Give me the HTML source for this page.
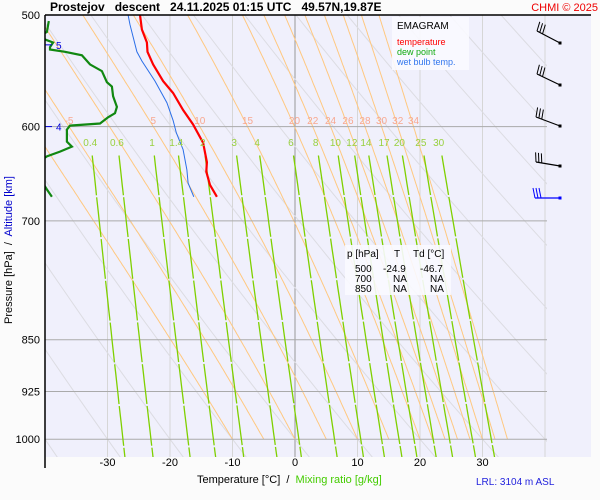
<!DOCTYPE html>
<html><head><meta charset="utf-8"><style>
body{margin:0;background:#fbfbfb;}
svg{display:block;font-family:"Liberation Sans",sans-serif;}
text{white-space:pre;}
</style></head><body>
<svg id="chart" width="600" height="500" viewBox="0 0 600 500">
<rect x="45" y="15" width="546" height="442" fill="#f0f0fc"/>
<defs><clipPath id="pc"><rect x="45" y="15" width="502" height="442"/></clipPath></defs>
<g id="grid" clip-path="url(#pc)"></g>
<g id="series" clip-path="url(#pc)"></g>
<g id="labels"></g>
<line x1="45" y1="15" x2="591" y2="15" stroke="#000" stroke-width="1.5"/>
<line x1="45" y1="15" x2="45" y2="468" stroke="#000" stroke-width="1.5"/>
<text x="50" y="11" font-size="12" font-weight="bold">Prostejov   descent   24.11.2025 01:15 UTC   49.57N,19.87E</text>
<text x="598" y="11" font-size="11" fill="#e00" text-anchor="end">CHMI © 2025</text>
<text transform="translate(12,250) rotate(-90)" font-size="11" text-anchor="middle">Pressure [hPa]  /  <tspan fill="#00c">Altitude [km]</tspan></text>
<text x="197" y="483" font-size="11">Temperature [°C]  /  <tspan fill="#44cc00">Mixing ratio [g/kg]</tspan></text>
<text x="476" y="485" font-size="10" fill="#22d">LRL: 3104 m ASL</text>
<g>
<rect x="392" y="17" width="77" height="53" fill="#fafaff" opacity="0.9"/>
<text x="397" y="29" font-size="10">EMAGRAM</text>
<text x="397" y="45" font-size="9" fill="#f00">temperature</text>
<text x="397" y="55" font-size="9" fill="#1a1">dew point</text>
<text x="397" y="65" font-size="9" fill="#37e">wet bulb temp.</text>
</g>
<g font-size="10">
<rect x="345" y="245" width="106" height="50" fill="#fafaff" opacity="0.9"/>
<text x="347" y="257">p [hPa]</text><text x="394" y="257">T</text><text x="413" y="257">Td [°C]</text>
<text x="355" y="272">500</text><text x="383" y="272">-24.9</text><text x="420" y="272">-46.7</text>
<text x="355" y="282">700</text><text x="393" y="282">NA</text><text x="430" y="282">NA</text>
<text x="355" y="292">850</text><text x="393" y="292">NA</text><text x="430" y="292">NA</text>
</g>
<g id="barbs"></g>
</svg>
<script>
const tempP=[500,512,523,531,542,557,568,584,598,616,636,646,660,673];
const tempT=[-24.8,-24.5,-23.7,-23.6,-22.7,-21.1,-19.5,-17.9,-16.3,-14.7,-14.1,-14.2,-13.6,-12.5];
const wbP=[500,508,531,539,557,577,594,606,623,644,658,673];
const wbT=[-26.7,-26.4,-25.3,-24.5,-22.4,-20.5,-19.5,-19.0,-17.9,-17.3,-17.1,-16.2];
const dewP=[505,514,518,521,523,527,529,531,534,542,548,558,562,571,581,587,591,597,599,603,615,620,625,630,640,665,673];
const dewT=[-39.4,-39.7,-41,-39.7,-38.7,-39.2,-39.2,-36.8,-34.1,-32.8,-30.9,-30.1,-29.3,-29.1,-28.5,-28.8,-29.9,-31.2,-36,-36.5,-36.5,-35.7,-37.6,-39.7,-42,-39.7,-38.9];
const pressureTicks=[500,600,700,850,925,1000];
const tempTicks=[-30,-20,-10,0,10,20,30];
const isotherms=[-40,-30,-20,-10,0,10,20,30,40];
const dryTheta=[-40,-30,-20,-10,0,10,20,30,40,50,60,70,80,90,100,110];
const moistThetaW=[-10,-5,0,5,10,15,20,22,24,26,28,30,32,34];
const moistLabelled=[-5,5,10,15,20,22,24,26,28,30,32,34];
const mixRatios=[0.4,0.6,1,1.4,2,3,4,6,8,10,12,14,17,20,25,30];
const altKm=[5,4];
const altP=[525,600];

const NS='http://www.w3.org/2000/svg';
const xs=t=>295+6.25*t;
const ys=p=>15+612*Math.log(p/500);
function mk(tag,attrs,parent){const e=document.createElementNS(NS,tag);for(const k in attrs)e.setAttribute(k,attrs[k]);parent.appendChild(e);return e;}
const grid=document.getElementById('grid'),ser=document.getElementById('series'),lab=document.getElementById('labels'),barbs=document.getElementById('barbs');
const pts=(P,T)=>P.map((p,i)=>xs(T[i]).toFixed(1)+','+ys(p).toFixed(1)).join(' ');

isotherms.forEach(t=>{const l=mk('line',{x1:xs(t),x2:xs(t),y1:15,y2:457,stroke:t===0?'#999':'#d6d6d6','stroke-width':1},grid);

});
dryTheta.forEach(th=>{const P=[],T=[];for(let p=480;p<=1060;p+=20){P.push(p);T.push((th+273.15)*Math.pow(p/1000,0.2857)-273.15);}
const l=mk('polyline',{points:pts(P,T),fill:'none',stroke:'#dcdce2','stroke-width':1},grid);

});
function es(t){return 6.112*Math.exp(17.67*t/(t+243.5));}
function moist(tw){const P=[1000],T=[tw];let t=tw+273.15;for(let p=1000;p>480;p-=2){const e=es(t-273.15),rs=0.622*e/(p-e);
const dT=(287*t+2.5e6*rs)/(1004+2.5e6*2.5e6*rs*0.622/(287*t*t))/p;t-=dT*2;P.push(p-2);T.push(t-273.15);}return [P,T];}
moistThetaW.forEach(tw=>{const [P,T]=moist(tw);
const l=mk('polyline',{points:pts(P,T),fill:'none',stroke:'#ffc880','stroke-width':1},grid);


if(moistLabelled.includes(tw)){const i=P.findIndex(p=>p<=600);const tx=mk('text',{x:xs(T[i]),y:124,'font-size':10,fill:'#f8a890','text-anchor':'middle'},lab);tx.textContent=tw;

}});
pressureTicks.forEach(p=>{const l=mk('line',{x1:45,x2:547,y1:ys(p),y2:ys(p),stroke:'#aaa','stroke-width':1},grid);


const t=mk('text',{x:40,y:ys(p)+4,'font-size':11,'text-anchor':'end'},lab);t.textContent=p;

});
tempTicks.forEach(v=>{const t=mk('text',{x:xs(v),y:466,'font-size':11,'text-anchor':'middle'},lab);t.textContent=v;

});
function tdOf(w,p){const e=w*p/(622+w),l=Math.log(e/6.112);return 243.5*l/(17.67-l);}
mixRatios.forEach(w=>{const P=[],T=[];for(let p=629;p<=1035;p+=15){P.push(p);T.push(tdOf(w,p));}
const l=mk('polyline',{points:pts(P,T),fill:'none',stroke:'#7fd000','stroke-width':1.3,'stroke-dasharray':'40,2'},grid);


const t=mk('text',{x:xs(tdOf(w,610)),y:146,'font-size':10,fill:'#99d040','text-anchor':'middle'},lab);t.textContent=w;

});
let s=mk('polyline',{points:pts(wbP,wbT),fill:'none',stroke:'#2a6ee8','stroke-width':1},ser);


s=mk('polyline',{points:pts(dewP,dewT),fill:'none',stroke:'#118811','stroke-width':2.2},ser);


s=mk('polyline',{points:pts(tempP,tempT),fill:'none',stroke:'#f00','stroke-width':2.2},ser);


altKm.forEach((k,i)=>{const y=ys(altP[i]);mk('line',{x1:45,x2:52,y1:y,y2:y,stroke:'#00d'},lab);
const t=mk('text',{x:56,y:y+4,'font-size':10,fill:'#00d'},lab);t.textContent=k;

});
const barbY=[43,85,126,166,198];
const barbDx=[-23,-23,-24,-24,-25];
const barbDy=[-12,-11,-9,-4,0];
barbY.forEach((y,i)=>{const c=i===4?'#00f':'#000';const g=mk('g',{},barbs);


const x0=560,x1=x0+barbDx[i],y1=y+barbDy[i];
mk('rect',{x:x0-1.5,y:y-1.5,width:3,height:3,fill:c},g);
mk('line',{x1:x0,y1:y,x2:x1,y2:y1,stroke:c,'stroke-width':1.2},g);
const ux=(x0-x1)/25,uy=(y-y1)/25;
for(let k=0;k<3;k++){const bx=x1+ux*k*3,by=y1+uy*k*3;mk('line',{x1:bx,y1:by,x2:bx+(uy*10)-2,y2:by-(ux*10),stroke:c,'stroke-width':1},g);}});
</script>
</body></html>
